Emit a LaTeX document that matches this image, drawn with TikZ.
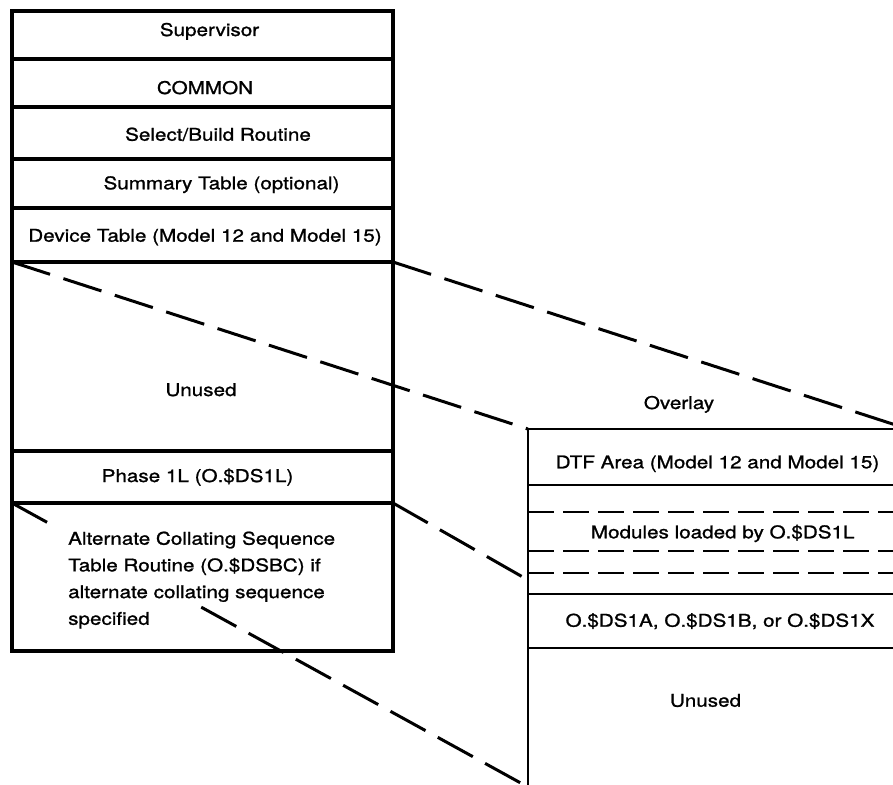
\documentclass[tikz,border=0pt]{standalone}
\usepackage{fontspec}
\setmainfont[FakeStretch=1.18,FakeBold=1.2]{TeX Gyre Heros}
\begin{document}
\begin{tikzpicture}[x=1pt,y=-1pt,
  lcell/.style={draw, line width=3.2pt, minimum width=381pt, inner sep=0pt, outer sep=0pt, anchor=north west},
  rcell/.style={draw, line width=2.6pt, minimum width=380pt, inner sep=0pt, outer sep=0pt, anchor=north west},
  txt/.style={font=\fontsize{17.5}{26.7}\selectfont, inner sep=0pt, anchor=base},
  conn/.style={line width=3pt, dash pattern=on 40pt off 14pt},
  rdash/.style={line width=2.2pt, dash pattern=on 26pt off 9pt}]
\useasboundingbox (0,0) rectangle (893,784);
\clip (0,0) rectangle (893,784);
% left column
\node[lcell, minimum height=48pt]  (sup) at (12,11)  {};
\node[lcell, minimum height=48pt]  (com) at (12,59)  {};
\node[lcell, minimum height=52pt]  (sel) at (12,107) {};
\node[lcell, minimum height=49pt]  (sum) at (12,159) {};
\node[lcell, minimum height=54pt]  (dev) at (12,208) {};
\node[lcell, minimum height=189pt] (unl) at (12,262) {};
\node[lcell, minimum height=52pt]  (ph1) at (12,451) {};
\node[lcell, minimum height=148pt] (alt) at (12,503) {};
% right column
\node[rcell, line width=2.4pt, minimum height=194pt] (unr) at (528,648) {};
\node[rcell, line width=2.4pt, minimum height=54pt]  (dsx) at (528,594) {};
\node[rcell, line width=2.4pt, minimum height=109pt] (mod) at (528,485) {};
\node[rcell, minimum height=56pt]  (dtf) at (528,429) {};
\draw[rdash] ([yshift=-27pt]mod.north west) -- ([yshift=-27pt]mod.north east);
\draw[rdash] ([yshift=-66pt]mod.north west) -- ([yshift=-66pt]mod.north east);
\draw[rdash] ([yshift=-88pt]mod.north west) -- ([yshift=-88pt]mod.north east);
\coordinate (modin) at ([yshift=-95pt]mod.north west);
\coordinate (rbot) at (528,787);
% connectors
\draw[conn] (unl.north west) -- (dtf.north west);
\draw[conn] (unl.north east) -- (dtf.north east);
\draw[conn] (ph1.south east) -- (modin);
\draw[conn] (alt.north west) -- (rbot);
\fill[white] (50,522) rectangle (336,603);
% texts
\node[txt] (tsup) at (209.5,36)  {Supervisor};
\node[txt] (tcom) at (205,94)    {COMMON};
\node[txt] (tsel) at (218,140.7) {Select/Build Routine};
\node[txt] (tsum) at (221.5,189.3) {Summary Table (optional)};
\node[txt] (tdev) at (205,241.7) {Device Table (Model 12 and Model 15)};
\node[txt] (tunl) at (201,396)   {Unused};
\node[txt] (tph1) at (197.5,482) {Phase 1L (O.\$DS1L)};
\node[txt, anchor=north west, align=left] (talt) at (68,531.4)
  {Alternate Collating Sequence\\Table Routine (O.\$DSBC) if\\alternate collating sequence\\specified};
\node[txt] (tovl) at (679,409)   {Overlay};
\node[txt] (tdtf) at (717.5,468.3) {DTF Area (Model 12 and Model 15)};
\node[txt] (tmod) at (722.7,538.3) {Modules loaded by O.\$DS1L};
\node[txt] (tdsx) at (720,626.7) {O.\$DS1A, O.\$DS1B, or O.\$DS1X};
\node[txt] (tunr) at (705.5,706.7) {Unused};
\end{tikzpicture}
\end{document}
